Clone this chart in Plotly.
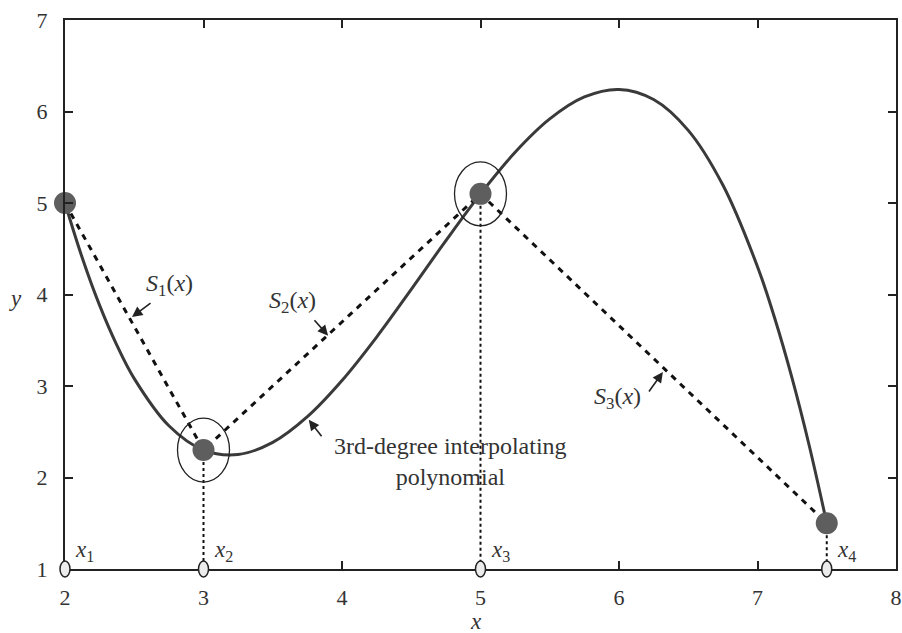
import plotly.graph_objects as go

# Data points (knots)
knot_x = [2, 3, 5, 7.5]
knot_y = [5, 2.3, 5.1, 1.5]
knot_labels = ["<i>x</i><sub>1</sub>", "<i>x</i><sub>2</sub>", "<i>x</i><sub>3</sub>", "<i>x</i><sub>4</sub>"]
circled_idx = [1, 2]

# 3rd-degree interpolating polynomial
curve_x = [2, 2.125, 2.25, 2.375, 2.5, 2.75, 3, 3.25, 3.5, 3.75, 4, 4.25, 4.5, 4.75, 5,
           5.25, 5.5, 5.75, 6, 6.25, 6.5, 6.75, 7, 7.125, 7.25, 7.375, 7.5]
curve_y = [5.0, 4.399, 3.881, 3.444, 3.081, 2.566, 2.3, 2.251, 2.384, 2.665, 3.060, 3.535, 4.056,
           4.589, 5.1, 5.555, 5.919, 6.159, 6.241, 6.131, 5.794, 5.196, 4.304, 3.737, 3.083,
           2.339, 1.5]

x_ticks = [2, 3, 4, 5, 6, 7, 8]
y_ticks = [1, 2, 3, 4, 5, 6, 7]
x_range = [2, 8]
y_range = [1, 7]

FONT = "Liberation Serif"
TXT = "#333333"

fig = go.Figure()

# vertical dotted drop lines from knots to the x axis
dx, dy = [], []
for xv, yv in zip(knot_x[1:], knot_y[1:]):
    dx += [xv, xv, None]
    dy += [yv, y_range[0], None]
fig.add_trace(go.Scatter(x=dx, y=dy, mode="lines",
                         line=dict(color="#111111", width=2, dash="dot"),
                         hoverinfo="skip", showlegend=False, cliponaxis=False))

# polynomial curve
fig.add_trace(go.Scatter(x=curve_x, y=curve_y, mode="lines",
                         line=dict(color="#3a3a3a", width=3, shape="spline", smoothing=1.0),
                         showlegend=False, cliponaxis=False))

# piecewise linear splines (dashed)
fig.add_trace(go.Scatter(x=knot_x, y=knot_y, mode="lines",
                         line=dict(color="#111111", width=3, dash="6px,6px"),
                         showlegend=False, cliponaxis=False))

# knot dots
fig.add_trace(go.Scatter(x=knot_x, y=knot_y, mode="markers",
                         marker=dict(size=22, color="#5e5e5e", line=dict(width=0)),
                         showlegend=False, cliponaxis=False))

def to_paper_x(v):
    return (v - x_range[0]) / (x_range[1] - x_range[0])

shapes = []
# small ellipses on the x axis (paper refs so they are not clipped)
for xv in knot_x:
    shapes.append(dict(type="circle", xref="paper", yref="paper", xsizemode="pixel", ysizemode="pixel",
                       xanchor=to_paper_x(xv), yanchor=0, x0=-5, x1=5, y0=-8, y1=8,
                       fillcolor="#ececec", line=dict(color="#222222", width=1.5), layer="above"))
# large ellipses around selected knots
for i in circled_idx:
    shapes.append(dict(type="circle", xref="x", yref="y", xsizemode="pixel", ysizemode="pixel",
                       xanchor=knot_x[i], yanchor=knot_y[i], x0=-26, x1=26, y0=-32, y1=32,
                       fillcolor="rgba(0,0,0,0)", line=dict(color="#222222", width=1.3), layer="above"))

annotations = []
# x_k labels
for xv, lab in zip(knot_x, knot_labels):
    annotations.append(dict(x=xv, y=y_range[0], text=lab, showarrow=False, xanchor="left",
                            yanchor="middle", xshift=8, yshift=18,
                            font=dict(family=FONT, size=23, color=TXT)))

# text labels
labels = [
    (2.752, 4.104, "<i>S</i><sub>1</sub>(<i>x</i>)"),
    (3.641, 3.92, "<i>S</i><sub>2</sub>(<i>x</i>)"),
    (5.991, 2.869, "<i>S</i><sub>3</sub>(<i>x</i>)"),
    (4.784, 2.18, "3rd-degree interpolating<br>polynomial"),
]
for xv, yv, t in labels:
    annotations.append(dict(x=xv, y=yv, text=t, showarrow=False, xanchor="center", yanchor="middle",
                            font=dict(family=FONT, size=24, color=TXT)))

# arrows (head at data coords, tail offset in px)
arrows = [
    (2.484, 3.754, 20, -15),
    (3.90, 3.55, -15, -17),
    (6.317, 3.153, -15, 21),
    (3.76, 2.63, 14, 18),
]
for xv, yv, ax, ay in arrows:
    annotations.append(dict(x=xv, y=yv, ax=ax, ay=ay, text="", showarrow=True,
                            arrowhead=2, arrowsize=1.3, arrowwidth=1.6, arrowcolor="#222222",
                            standoff=0, startstandoff=0))

# axis titles
annotations.append(dict(x=0, y=0.5, xref="paper", yref="paper", text="<i>y</i>", showarrow=False,
                        xanchor="center", yanchor="middle", xshift=-50, yshift=-4,
                        font=dict(family=FONT, size=23, color=TXT)))
annotations.append(dict(x=0.5, y=0, xref="paper", yref="paper", text="<i>x</i>", showarrow=False,
                        xanchor="center", yanchor="middle", yshift=-52, xshift=-5,
                        font=dict(family=FONT, size=23, color=TXT)))

axis_common = dict(showline=True, linecolor="#222222", linewidth=2, mirror="ticks",
                   ticks="inside", ticklen=8, tickwidth=2, tickcolor="#222222",
                   showgrid=False, zeroline=False, automargin=False,
                   tickfont=dict(family=FONT, size=22, color=TXT))

fig.update_layout(
    width=902, height=633,
    margin=dict(l=65, r=6, t=20, b=64),
    plot_bgcolor="white", paper_bgcolor="white",
    xaxis=dict(range=x_range, tickvals=x_ticks, ticklabelstandoff=8, **axis_common),
    yaxis=dict(range=y_range, tickvals=y_ticks, ticklabelstandoff=11, **axis_common),
    shapes=shapes, annotations=annotations,
)

fig.write_html("out.html")
